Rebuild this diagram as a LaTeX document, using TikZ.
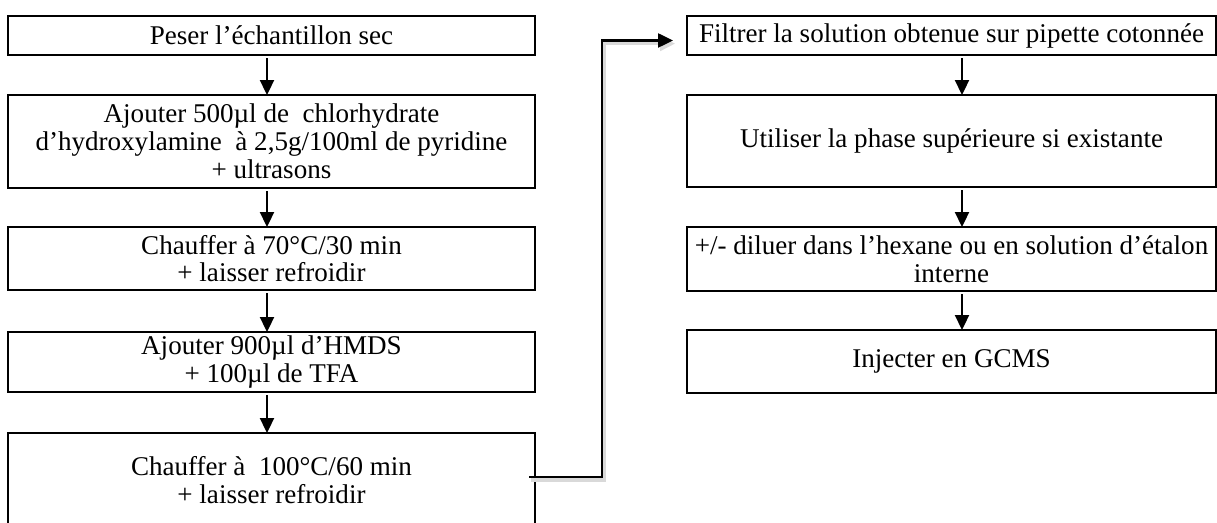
\documentclass[tikz,border=0pt]{standalone}
\usepackage{fontspec}
\setmainfont{Liberation Serif}
\usetikzlibrary{arrows.meta}

\begin{document}
\begin{tikzpicture}[x=0.02cm,y=-0.02cm,>={Triangle[width=0.28cm,length=0.3cm]},
  etape/.style={draw,line width=1.3pt,inner sep=0pt,outer sep=0pt,align=center,
    font=\fontsize{15.4}{15.8}\selectfont},
  gauche/.style={etape,minimum width=10.54cm},
  droite/.style={etape,minimum width=10.58cm},
  fleche/.style={->,line width=1.3pt}]
\pgfmathsetmacro\xg{271.5}
\pgfmathsetmacro\xd{951.5}
\useasboundingbox (0,0) rectangle (1217,523);

\node[gauche,minimum height=0.78cm] (g1) at (\xg,35.5) {Peser l’échantillon sec};
\node[gauche,minimum height=1.86cm] (g2) at (\xg,141.5)
  {Ajouter 500µl de~ chlorhydrate\\d’hydroxylamine~ à 2,5g/100ml de pyridine\\+ ultrasons};
\node[gauche,minimum height=1.26cm] (g3) at (\xg,258.5) {Chauffer à 70°C/30 min\\+ laisser refroidir};
\node[gauche,minimum height=1.2cm] (g4) at (\xg,362) {Ajouter 900µl d’HMDS\\+ 100µl de TFA};
\node[gauche,minimum height=1.88cm] (g5) at (\xg,480) {Chauffer à~ 100°C/60 min\\+ laisser refroidir};

\node[droite,minimum height=0.78cm] (d1) at (\xd,35.5) {Filtrer la solution obtenue sur pipette cotonnée};
\node[droite,minimum height=1.84cm] (d2) at (\xd,141) {Utiliser la phase supérieure si existante};
\node[droite,minimum height=1.28cm] (d3) at (\xd,259) {+/- diluer dans l’hexane ou en solution d’étalon\\interne};
\node[droite,minimum height=1.26cm] (d4) at (\xd,361.5) {Injecter en GCMS};

\foreach \a/\b in {g1/g2,g2/g3,g3/g4,g4/g5} {
  \draw[fleche] ([xshift=-0.09cm,yshift=-0.07cm]\a.south) -- ([xshift=-0.09cm]\b.north);
}
\foreach \a/\b in {d1/d2,d2/d3,d3/d4} {
  \draw[fleche] ([xshift=0.21cm,yshift=-0.07cm]\a.south) -- ([xshift=0.21cm]\b.north);
}

\coordinate (depart) at (529,477);
\draw[fleche,preaction={draw=black!15,line width=2pt,transform canvas={xshift=1.2pt,yshift=-1.8pt}}]
  (depart) -| ([xshift=-1.7cm,yshift=-0.1cm]d1.west) -- ([xshift=-0.28cm,yshift=-0.1cm]d1.west);
\end{tikzpicture}
\end{document}
